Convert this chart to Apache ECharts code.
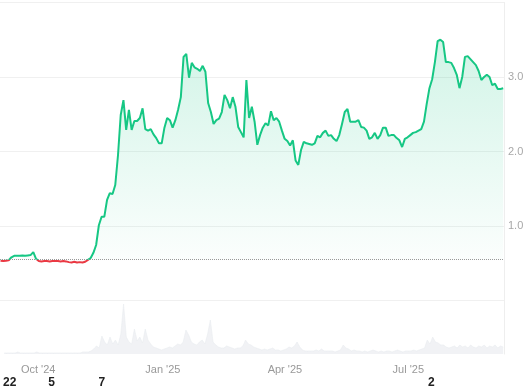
<!DOCTYPE html>
<html><head><meta charset="utf-8">
<script src="https://cdn.jsdelivr.net/npm/echarts@6/dist/echarts.min.js"></script>
<style>html,body{margin:0;padding:0;background:#fff}#c{width:527px;height:390px}</style>
</head><body><div id="c"></div>
<script>
const startDate = '2024-09-06';
const stepDays = 2;
const priceValues = [
0.535,0.53,0.535,0.54,0.58,0.60,0.60,0.60,0.605,0.60,
0.605,0.61,0.65,0.56,0.53,0.525,0.53,0.53,0.525,0.53,
0.53,0.53,0.525,0.53,0.525,0.515,0.51,0.52,0.51,0.515,
0.51,0.52,0.545,0.57,0.64,0.745,1.01,1.125,1.125,1.35,
1.44,1.43,1.55,1.95,2.49,2.69,2.29,2.56,2.29,2.41,
2.41,2.45,2.58,2.30,2.28,2.30,2.23,2.18,2.11,2.11,
2.32,2.45,2.42,2.32,2.42,2.56,2.73,3.27,3.31,2.99,
3.19,3.13,3.11,3.08,3.15,3.07,2.65,2.53,2.37,2.42,
2.44,2.53,2.76,2.69,2.58,2.73,2.60,2.33,2.26,2.19,
2.96,2.45,2.60,2.40,2.09,2.22,2.32,2.38,2.35,2.54,
2.42,2.45,2.40,2.28,2.17,2.14,2.08,2.15,1.88,1.82,
2.02,2.13,2.11,2.10,2.09,2.11,2.21,2.19,2.25,2.28,
2.21,2.22,2.17,2.14,2.22,2.37,2.53,2.57,2.40,2.40,
2.40,2.42,2.33,2.32,2.28,2.17,2.19,2.25,2.17,2.22,
2.32,2.32,2.21,2.22,2.22,2.18,2.15,2.06,2.17,2.19,
2.22,2.25,2.26,2.28,2.30,2.40,2.64,2.85,2.97,3.20,
3.48,3.50,3.47,3.20,3.20,3.19,3.12,3.03,2.85,3.00,
3.27,3.28,3.24,3.20,3.16,3.08,2.96,3.00,3.03,3.00,
2.89,2.91,2.84,2.84,2.85
];
const volumeValues = [
1,1,1,1,1,2,1,1,1,1,
1,1,2,1,1,1,1,1,1,1,
1,1,1,1,1,1,1,1,1,2,
2,2,3,5,8,6,18,12,9,17,
10,14,9,20,50,17,12,10,25,13,
17,11,25,14,10,7,6,5,4,5,
6,7,6,8,10,9,12,24,19,12,
10,9,12,14,10,20,34,12,9,7,
6,6,8,7,6,5,6,6,8,14,
10,9,7,6,5,4,5,4,5,6,
4,4,3,4,5,7,6,8,12,7,
4,3,3,3,3,4,3,5,3,3,
3,3,2,3,4,9,6,5,3,4,
3,3,2,3,2,3,4,3,2,3,
2,3,3,2,3,4,3,2,3,3,
3,4,3,4,5,6,14,10,17,12,
11,9,9,7,6,7,8,6,9,7,
8,6,9,7,6,8,7,9,6,8,
7,9,6,8,7
];
const baselinePrice = 0.545;
const quarterDates = ['2024-10-01','2025-01-01','2025-04-01','2025-07-01'];
const quarterLabels = ["Oct '24","Jan '25","Apr '25","Jul '25"];
const eventDates = ['2024-09-10','2024-10-11','2024-11-17','2025-07-18'];
const eventLabels = ['22','5','7','2'];
const axisStart = '2024-09-05T15:00:00Z';
const axisEnd = '2025-09-09T14:00:00Z';

const ts = d => new Date(d.length === 10 ? d + 'T00:00:00Z' : d).getTime();
const DAY = 86400000;
const t0 = ts(startDate);
const priceData = priceValues.map((v, i) => [t0 + i * stepDays * DAY, v]);
const volumeData = volumeValues.map((v, i) => [t0 + i * stepDays * DAY, v]);
const quarterTs = quarterDates.map(ts);
const eventTs = eventDates.map(ts);
const xMin = ts(axisStart), xMax = ts(axisEnd);
const FONT = '"Liberation Sans", Arial, sans-serif';
const pick = (arr, labels) => v => { const k = arr.indexOf(v); return k >= 0 ? labels[k] : ''; };

const chart = echarts.init(document.getElementById('c'), null, {renderer: 'canvas'});
chart.setOption({
  animation: false,
  backgroundColor: '#fff',
  grid: [
    {left: 0, right: 23, top: 2.5, height: 298},
    {left: 0, right: 23, top: 301, height: 53}
  ],
  visualMap: {
    type: 'piecewise', show: false, seriesIndex: 0, dimension: 1,
    pieces: [{min: 0, max: baselinePrice, color: '#ea3943'}, {min: baselinePrice, max: 10, color: '#16c784'}]
  },
  xAxis: [
    {type: 'value', gridIndex: 0, min: xMin, max: xMax, show: false, splitLine: {show: false}},
    {type: 'value', gridIndex: 1, min: xMin, max: xMax,
      axisLine: {show: false}, axisTick: {show: false}, splitLine: {show: false},
      axisLabel: {customValues: quarterTs, formatter: pick(quarterTs, quarterLabels),
        color: '#999999', fontSize: 11, margin: 10, fontFamily: FONT}},
    {type: 'value', gridIndex: 1, min: xMin, max: xMax, position: 'bottom', offset: 13,
      axisLine: {show: false}, axisTick: {show: false}, splitLine: {show: false},
      axisLabel: {customValues: eventTs, formatter: pick(eventTs, eventLabels),
        color: '#222', fontSize: 12, fontWeight: 'bold', margin: 10, fontFamily: FONT}}
  ],
  yAxis: [
    {type: 'value', gridIndex: 0, position: 'right', min: 0, max: 4, interval: 1,
      axisLine: {show: true, lineStyle: {color: '#eeeeee'}}, axisTick: {show: false},
      splitLine: {lineStyle: {color: '#f0f0f0'}},
      axisLabel: {formatter: v => (v >= 1 && v <= 3) ? v.toFixed(1) : '', color: '#a8a8a8', fontSize: 11, margin: 4, fontFamily: FONT}},
    {type: 'value', gridIndex: 1, position: 'right', min: 0, max: 53,
      axisLine: {show: true, lineStyle: {color: '#eeeeee'}}, axisTick: {show: false},
      splitLine: {show: false}, axisLabel: {show: false}}
  ],
  series: [
    {type: 'line', xAxisIndex: 0, yAxisIndex: 0, data: priceData, showSymbol: false, symbol: 'none',
      lineStyle: {width: 2},
      areaStyle: {origin: baselinePrice, color: new echarts.graphic.LinearGradient(0, 0, 0, 1, [
        {offset: 0, color: 'rgba(22,199,132,0.28)'}, {offset: 1, color: 'rgba(22,199,132,0.02)'}])},
      markLine: {silent: true, symbol: 'none', label: {show: false},
        lineStyle: {type: 'dotted', color: '#999', width: 1}, data: [{yAxis: baselinePrice}]}},
    {type: 'line', xAxisIndex: 1, yAxisIndex: 1, data: volumeData, showSymbol: false, symbol: 'none',
      lineStyle: {width: 0.6, color: '#eaecf0'}, areaStyle: {color: '#f1f2f5', opacity: 1}}
  ]
});
</script>
</body></html>
